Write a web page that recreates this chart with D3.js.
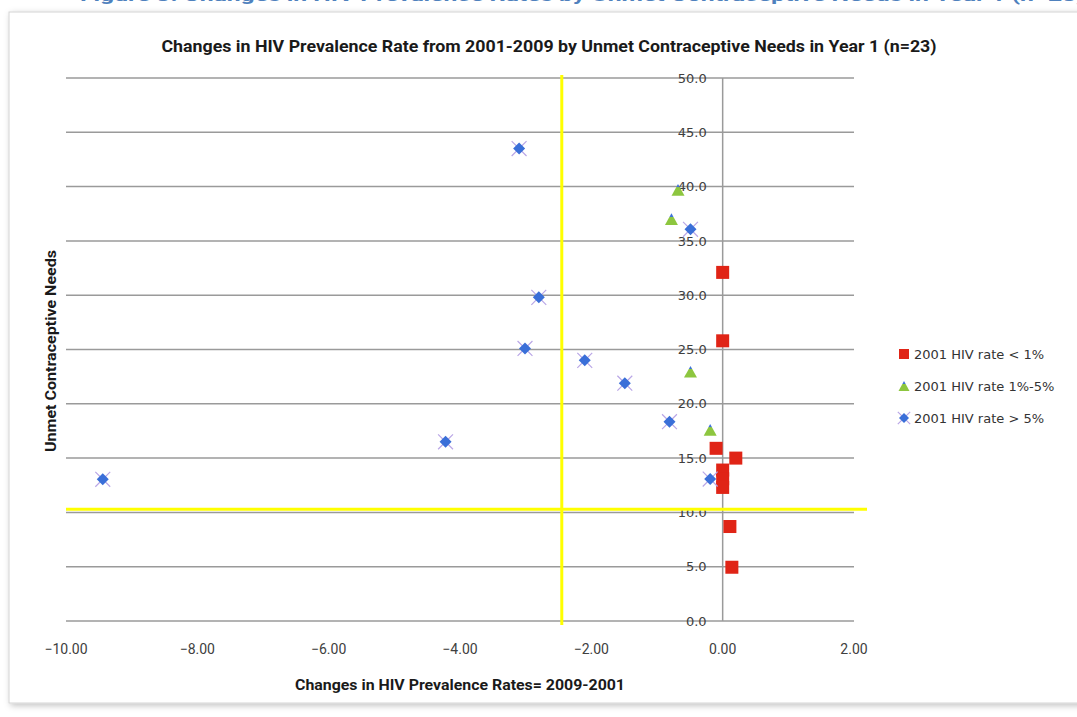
<!DOCTYPE html>
<html>
<head>
<meta charset="utf-8">
<script src="https://cdn.jsdelivr.net/npm/d3@7/dist/d3.min.js"></script>
<style>
  html, body { margin: 0; padding: 0; background: #ffffff; }
  svg { display: block; }
</style>
</head>
<body>
<svg id="chart" width="1077" height="717"></svg>
<script>
// ---------- data ----------
const captionText = "Figure 3: Changes in HIV Prevalence Rates by Unmet Contraceptive Needs in Year 1 (n=23)";
const titleText = "Changes in HIV Prevalence Rate from 2001-2009  by Unmet Contraceptive Needs in Year 1 (n=23)";
const xTitle = "Changes in HIV Prevalence Rates= 2009-2001";
const yTitle = "Unmet Contraceptive Needs";
const seriesNames = ["2001 HIV rate < 1%", "2001 HIV rate 1%-5%", "2001 HIV rate > 5%"];

const lowX  = [0.0, 0.0, -0.1, 0.2, 0.0, 0.0, 0.0, 0.11, 0.14];
const lowY  = [32.1, 25.8, 15.9, 15.0, 13.9, 13.1, 12.3, 8.7, 4.95];
const midX  = [-0.68, -0.78, -0.49, -0.19];
const midY  = [39.7, 37.0, 22.95, 17.6];
const highX = [-3.1, -2.8, -3.01, -2.1, -1.49, -4.22, -0.81, -9.44, -0.19, -0.49];
const highY = [43.5, 29.8, 25.1, 24.0, 21.9, 16.5, 18.35, 13.05, 13.07, 36.07];

const xTicks = [-10, -8, -6, -4, -2, 0, 2];
const yTicks = [0, 5, 10, 15, 20, 25, 30, 35, 40, 45, 50];
const quadrantX = -2.45;   // yellow vertical reference line
const quadrantY = 10.3;    // yellow horizontal reference line

// ---------- layout ----------
const svg = d3.select("#chart");
const x = d3.scaleLinear().domain([-10, 2]).range([66, 854]);
const y = d3.scaleLinear().domain([0, 50]).range([621, 78]);

const defs = svg.append("defs");
const f = defs.append("filter").attr("id", "shadow").attr("x", "-5%").attr("y", "-5%").attr("width", "110%").attr("height", "110%");
f.append("feDropShadow").attr("dx", 2).attr("dy", 2).attr("stdDeviation", 3).attr("flood-color", "#000").attr("flood-opacity", 0.25);
const g1 = defs.append("linearGradient").attr("id", "triGrad").attr("x1", 0).attr("y1", 0).attr("x2", 0).attr("y2", 1);
g1.append("stop").attr("offset", "0%").attr("stop-color", "#3f74d6");
g1.append("stop").attr("offset", "28%").attr("stop-color", "#3f74d6");
g1.append("stop").attr("offset", "30%").attr("stop-color", "#8dc63f");
g1.append("stop").attr("offset", "100%").attr("stop-color", "#8dc63f");

const narrow = "Roboto, 'Open Sans', sans-serif";

// caption (cut off at top edge, as in the reference)
svg.append("text").attr("x", 80).attr("y", 1)
  .attr("font-family", narrow)
  .attr("font-weight", "bold").attr("font-size", 17).attr("fill", "#4f81bd")
  .attr("textLength", 1005).attr("lengthAdjust", "spacingAndGlyphs")
  .text(captionText);

// chart frame
svg.append("rect").attr("x", 9).attr("y", 12).attr("width", 1090).attr("height", 691)
  .attr("fill", "#ffffff").attr("stroke", "#d4d4d4").attr("stroke-width", 1)
  .attr("filter", "url(#shadow)");

// title
svg.append("text").attr("x", 549).attr("y", 52).attr("text-anchor", "middle")
  .attr("font-family", narrow)
  .attr("font-weight", "bold").attr("font-size", 16).attr("fill", "#1a1a1a")
  .attr("textLength", 775).attr("lengthAdjust", "spacingAndGlyphs")
  .text(titleText);

// gridlines
svg.append("g").selectAll("line").data(yTicks).join("line")
  .attr("x1", x(-10)).attr("x2", x(2))
  .attr("y1", d => y(d)).attr("y2", d => y(d))
  .attr("stroke", "#9a9a9a").attr("stroke-width", 1.5);

// y axis line at x=0
svg.append("line").attr("x1", x(0)).attr("x2", x(0)).attr("y1", y(50)).attr("y2", y(0))
  .attr("stroke", "#9a9a9a").attr("stroke-width", 1.5);

// y tick labels (next to the x=0 axis)
svg.append("g").selectAll("text").data(yTicks).join("text")
  .attr("x", x(0) - 16).attr("y", d => y(d)).attr("dy", "0.36em")
  .attr("text-anchor", "end")
  .attr("font-family", "'DejaVu Sans', sans-serif").attr("font-size", 13).attr("fill", "#404040")
  .text(d => d3.format(".1f")(d));

// x tick labels
svg.append("g").selectAll("text").data(xTicks).join("text")
  .attr("x", d => x(d)).attr("y", y(0) + 28).attr("dy", "0.36em")
  .attr("text-anchor", "middle")
  .attr("font-family", narrow).attr("font-size", 14).attr("fill", "#404040")
  .text(d => d3.format(".2f")(d));

// axis titles
svg.append("text").attr("x", 460).attr("y", 690).attr("text-anchor", "middle")
  .attr("font-family", narrow)
  .attr("font-weight", "bold").attr("font-size", 14).attr("fill", "#1a1a1a")
  .attr("textLength", 330).attr("lengthAdjust", "spacingAndGlyphs")
  .text(xTitle);
svg.append("text").attr("transform", "translate(56,351) rotate(-90)").attr("text-anchor", "middle")
  .attr("font-family", narrow)
  .attr("font-weight", "bold").attr("font-size", 14).attr("fill", "#1a1a1a")
  .attr("textLength", 202).attr("lengthAdjust", "spacingAndGlyphs")
  .text(yTitle);

// yellow reference lines
svg.append("line").attr("x1", x(quadrantX)).attr("x2", x(quadrantX))
  .attr("y1", y(50) - 3).attr("y2", y(0) + 4)
  .attr("stroke", "#ffff00").attr("stroke-width", 3);
svg.append("line").attr("x1", x(-10)).attr("x2", x(2) + 13)
  .attr("y1", y(quadrantY)).attr("y2", y(quadrantY))
  .attr("stroke", "#ffff00").attr("stroke-width", 3);

// markers
const red = "#e02416", blue = "#3a6fd8", xPurple = "#b9a6e6";
function drawSquare(g, cx, cy, s) {
  g.append("rect").attr("x", cx - s / 2).attr("y", cy - s / 2).attr("width", s).attr("height", s).attr("fill", red);
}
function drawTri(g, cx, cy, s) {
  const h = s * 0.9;
  g.append("path").attr("d", `M${cx},${cy - h / 2} L${cx + s / 2},${cy + h / 2} L${cx - s / 2},${cy + h / 2} Z`)
    .attr("fill", "url(#triGrad)");
}
function drawStar(g, cx, cy, s) {
  const a = s * 0.62;
  g.append("path").attr("d", `M${cx - a},${cy - a} L${cx + a},${cy + a} M${cx + a},${cy - a} L${cx - a},${cy + a}`)
    .attr("stroke", xPurple).attr("stroke-width", 1.2);
  g.append("path").attr("d", `M${cx},${cy - s / 2} L${cx + s / 2},${cy} L${cx},${cy + s / 2} L${cx - s / 2},${cy} Z`)
    .attr("fill", blue);
}

const pts = svg.append("g");
lowX.forEach((v, i) => drawSquare(pts, x(v), y(lowY[i]), 13));
midX.forEach((v, i) => drawTri(pts, x(v), y(midY[i]), 13));
highX.forEach((v, i) => drawStar(pts, x(v), y(highY[i]), 12));

// legend
const legend = svg.append("g");
const legY = [354, 386, 418];
drawSquare(legend, 904, legY[0], 10);
drawTri(legend, 904, legY[1], 11);
drawStar(legend, 904, legY[2], 10);
legend.selectAll("text").data(seriesNames).join("text")
  .attr("x", 914).attr("y", (d, i) => legY[i]).attr("dy", "0.36em")
  .attr("font-family", "'DejaVu Sans', sans-serif").attr("font-size", 13).attr("fill", "#333333")
  .text(d => d);
</script>
</body>
</html>
